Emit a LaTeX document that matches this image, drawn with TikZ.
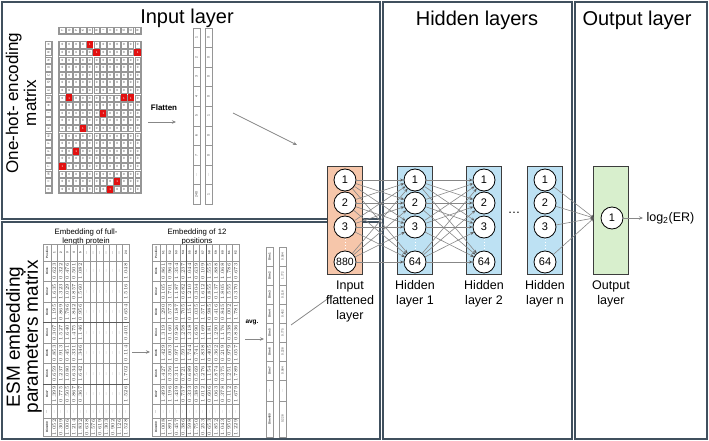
\documentclass[tikz,border=0pt]{standalone}
\usepackage{fontspec}
\setmainfont{Liberation Sans}
\usetikzlibrary{arrows.meta}
\definecolor{framecol}{RGB}{64,80,94}
\definecolor{inputfill}{RGB}{246,198,170}
\definecolor{hiddenfill}{RGB}{189,225,243}
\definecolor{outfill}{RGB}{216,239,205}
\definecolor{boxline}{RGB}{60,60,60}
\definecolor{conncol}{RGB}{135,135,135}
\definecolor{headcol}{RGB}{90,90,90}
\definecolor{gridcol}{RGB}{150,150,150}
\definecolor{onered}{RGB}{226,16,16}
\definecolor{tinycol}{RGB}{60,60,60}
\def\dd{\ldots}
\newcommand\esmnum{\pgfmathprintnumber[fixed,fixed zerofill,precision=3]{\esmval}}
\newcommand\tabAtxt[2]{%
  \ifnum#1=1 \textbf{\ifnum#2<6 #2\else\ifnum#2=12 24\else\ldots\fi\fi}%
  \else\ifnum#1=9 \ldots
  \else\ifnum#1=10 \esmnum
  \else\ifnum#2<6 \esmnum\else\ifnum#2=12 \esmnum\else\ldots\fi\fi
  \fi\fi\fi}
\newcommand\tabBtxt[2]{%
  \ifnum#1=1 \textbf{\the\numexpr50+#2\relax}%
  \else\ifnum#1=9 \ldots\else\esmnum\fi\fi}
\tikzset{
  panel/.style={draw=framecol, line width=1.6pt},
  paneltitle/.style={font=\fontsize{20}{23}\selectfont, text=black},
  sidelabel/.style={rotate=90, align=center},
  layerbox/.style={draw=boxline, line width=0.9pt, minimum width=35pt, minimum height=108pt, inner sep=0pt},
  neuron/.style={circle, draw=black, fill=white, line width=0.8pt, minimum size=22pt, inner sep=0pt, font=\fontsize{11}{12}\selectfont},
  conn/.style={draw=conncol, line width=0.6pt, -{Stealth[length=3.5pt,width=3pt,color=headcol]}},
  bigarrow/.style={draw=conncol, line width=0.8pt, -{Stealth[length=4pt,width=3.5pt]}},
  layerlabel/.style={align=center, font=\fontsize{12.5}{15}\selectfont, anchor=north},
  cellbox/.style={draw=gridcol, line width=0.3pt},
  tinytxt/.style={font=\fontsize{3}{3.4}\selectfont, text=tinycol, inner sep=0pt},
  smalltxt/.style={font=\fontsize{3.4}{3.8}\selectfont, text=tinycol, inner sep=0pt},
  dotsline/.style={draw=white, line width=0.9pt, dotted},
}
\begin{document}
\begin{tikzpicture}[x=1pt,y=-1pt]
\useasboundingbox (0,0) rectangle (709,441);
\fill[white] (0,0) rectangle (709,441);
% panels
\draw[panel] (2,2) rectangle (380,219);
\draw[panel] (2,222) rectangle (380,439);
\draw[panel] (383,2) rectangle (572,439);
\draw[panel] (575,2) rectangle (707,439);
\node[paneltitle] (t1) at (187,18) {Input layer};
\node[paneltitle] (t2) at (477,20) {Hidden layers};
\node[paneltitle] (t3) at (637,20) {Output layer};
\node[sidelabel, font=\fontsize{17}{18}\selectfont] (ohlab) at (21,103) {One-hot- encoding\\matrix};
\node[sidelabel, font=\fontsize{19}{18}\selectfont] (esmlab) at (24,337) {ESM embedding\\parameters matrix};

% ---------- one-hot matrix ----------
\foreach \L [count=\c] in {T,G,P,K,A,R,I,V,Y,G,G,R}{
  \pgfmathsetmacro\xa{59+(\c-1)*6.833}
  \draw[cellbox] ({\xa+0.6},27.5) rectangle ({\xa+6.233},33.5);
  \node[tinytxt, rotate=90] at ({\xa+3.42},30.5) {\L};
}
\draw[cellbox] (58.5,27) rectangle (141.5,34);
\foreach \L [count=\r] in {A,R,N,D,C,Q,E,G,H,I,L,K,M,F,P,S,T,W,Y,V}{
  \pgfmathsetmacro\ya{41+(\r-1)*7.6}
  \draw[cellbox] (45.5,{\ya+0.6}) rectangle (51.5,{\ya+7});
  \node[tinytxt, rotate=90] at (48.5,{\ya+3.8}) {\L};
  \foreach \c in {1,...,12}{
    \pgfmathsetmacro\xa{59+(\c-1)*6.833}
    \draw[cellbox] ({\xa+0.6},{\ya+0.6}) rectangle ({\xa+6.233},{\ya+7});
    \node[tinytxt] at ({\xa+3.42},{\ya+3.8}) {0};
  }
}
\draw[cellbox] (45,41) rectangle (52,193);
\draw[cellbox] (58.5,41) rectangle (141.5,193);
\foreach \r/\c in {1/5,2/6,2/12,8/2,8/10,8/11,10/7,12/4,15/3,17/1,19/9,20/8}{
  \pgfmathsetmacro\xa{59+(\c-1)*6.833}
  \pgfmathsetmacro\ya{41+(\r-1)*7.6}
  \fill[onered] ({\xa+0.3},{\ya+0.3}) rectangle ({\xa+6.5},{\ya+7.3});
  \node[tinytxt, text=white] at ({\xa+3.42},{\ya+3.8}) {1};
}
\node[font=\fontsize{8}{9}\selectfont\bfseries] (flattxt) at (164,108) {Flatten};
\coordinate (fl1) at (148,122);
\coordinate (fl2) at (176,122);
\draw[bigarrow] (fl1) -- (fl2);
% flattened vector
\foreach \a/\b [count=\k] in {1/0,2/0,3/0,4/0,5/1,6/0,7/0,\dd/\dd,240/1}{
  \pgfmathsetmacro\ya{28+(\k-1)*19.55}
  \draw[cellbox] (193,\ya) rectangle (200,{\ya+19.55});
  \draw[cellbox] (205,\ya) rectangle (212,{\ya+19.55});
  \node[smalltxt, rotate=90] at (196.5,{\ya+9.8}) {\a};
  \node[smalltxt, rotate=90] at (208.5,{\ya+9.8}) {\b};
}
\coordinate (vec1) at (233,113);
\coordinate (vec2) at (297,145);
\draw[bigarrow] (vec1) -- (vec2);

% ---------- ESM tables ----------
\node[align=center, font=\fontsize{7.8}{9}\selectfont] (tabAtitle) at (86,237) {Embedding of full-\\length protein};
\node[align=center, font=\fontsize{7.8}{9}\selectfont] (tabBtitle) at (197,237) {Embedding of 12\\positions};
\pgfmathsetseed{4}
\foreach \ya/\yb/\lab [count=\r] in {244/261/Position,261/281.5/Dim1,281.5/302/Dim2,302/322.5/Dim3,322.5/343/Dim4,343/363.5/Dim5,363.5/384/Dim6,384/404.5/Dim7,404.5/418.5/\dd,418.5/436.5/Dim480}{
  \draw[cellbox] (43,\ya) rectangle (51,\yb);
  \node[tinytxt, rotate=90] at (47,{(\ya+\yb)/2}) {\textbf{\lab}};
  \draw[cellbox] (152,\ya) rectangle (160,\yb);
  \node[tinytxt, rotate=90] at (156,{(\ya+\yb)/2}) {\textbf{\lab}};
  \foreach \c in {1,...,12}{
    \pgfmathsetmacro\xa{51+(\c-1)*6.5}
    \pgfmathsetmacro\esmval{0.1+rnd*1.8}
    \draw[cellbox] (\xa,\ya) rectangle ({\xa+6.5},\yb);
    \node[tinytxt, rotate=90] at ({\xa+3.25},{(\ya+\yb)/2}) {\tabAtxt{\r}{\c}};
    \pgfmathsetmacro\xb{160+(\c-1)*6.58}
    \pgfmathsetmacro\esmval{0.1+rnd*1.8}
    \draw[cellbox] (\xb,\ya) rectangle ({\xb+6.58},\yb);
    \node[tinytxt, rotate=90] at ({\xb+3.29},{(\ya+\yb)/2}) {\tabBtxt{\r}{\c}};
  }
}
\draw[draw=gray!70!black, line width=0.5pt] (43,322.5) -- (129,322.5);
\draw[draw=gray!70!black, line width=0.5pt] (43,384) -- (129,384);
\draw[draw=gray!70!black, line width=0.5pt] (186.3,244) -- (186.3,436.5);
\draw[draw=gray!70!black, line width=0.5pt] (205.9,244) -- (205.9,436.5);
\coordinate (tab1) at (132,352);
\coordinate (tab2) at (150,352);
\draw[bigarrow] (tab1) -- (tab2);
\node[font=\fontsize{6.5}{7}\selectfont\bfseries] (avgtxt) at (252,322) {avg.};
\coordinate (avg1) at (245,339);
\coordinate (avg2) at (264,339);
\draw[bigarrow] (avg1) -- (avg2);
\foreach \ya/\yb/\lab/\val in {247/266/Dim1/0.584,266/285/Dim2/1.772,285/304/Dim3/0.118,304/323/Dim4/0.452,323/342/Dim5/0.775,342/361/Dim6/0.228,361/380/Dim7/0.984,380/401/\dd/\dd,401/437/Dim480/0.228}{
  \draw[cellbox] (266,\ya) rectangle (273,\yb);
  \draw[cellbox] (279,\ya) rectangle (286,\yb);
  \node[tinytxt, rotate=90] at (269.5,{(\ya+\yb)/2}) {\textbf{\lab}};
  \node[tinytxt, rotate=90] at (282.5,{(\ya+\yb)/2}) {\val};
}
\coordinate (avgout) at (291,325);
\coordinate (avgin) at (333,295);
\draw[bigarrow] (avgout) -- (avgin);

% ---------- network ----------
\node[layerbox, fill=inputfill] (inbox) at (345,220) {};
\node[layerbox, fill=hiddenfill] (hAbox) at (415,220) {};
\node[layerbox, fill=hiddenfill] (hBbox) at (484,220) {};
\node[layerbox, fill=hiddenfill] (hNbox) at (545,220) {};
\node[layerbox, fill=outfill] (outbox) at (611,220) {};
\foreach \nm/\xx in {in/345,hA/415,hB/484,hN/545}{
  \draw[dotsline] (\xx,239) -- (\xx,251);
}
\node[neuron] (in1) at (345,180) {1};
\node[neuron] (in2) at (345,203) {2};
\node[neuron] (in3) at (345,227) {3};
\node[neuron, font=\fontsize{10.5}{11}\selectfont] (in4) at (345,262) {880};
\foreach \nm/\xx in {hA/415,hB/484,hN/545}{
  \node[neuron] (\nm1) at (\xx,180) {1};
  \node[neuron] (\nm2) at (\xx,203) {2};
  \node[neuron] (\nm3) at (\xx,227) {3};
  \node[neuron] (\nm4) at (\xx,262) {64};
}
\node[neuron] (out1) at (612,218) {1};
\foreach \i in {1,...,4}{
  \foreach \j in {1,...,4}{
    \draw[conn] (in\i) -- (hA\j);
    \draw[conn] (hA\i) -- (hB\j);
  }
}
\coordinate (oin) at (594,218);
\foreach \i in {1,...,4}{
  \draw[conn] (hN\i) -- (oin);
}
\node[font=\fontsize{12.5}{15}\selectfont] (gap) at (514,213) {\ldots};
\node[anchor=west, font=\fontsize{12.5}{15}\selectfont] (logtxt) at (643,218) {log\textsubscript{2}(ER)};
\draw[bigarrow] (out1) -- (logtxt);
\node[layerlabel] (inlab) at (350,277) {Input\\flattened\\layer};
\node[layerlabel] (hAlab) at (415,277) {Hidden\\layer 1};
\node[layerlabel] (hBlab) at (484,277) {Hidden\\layer 2};
\node[layerlabel] (hNlab) at (545,277) {Hidden\\layer n};
\node[layerlabel] (outlab) at (611,277) {Output\\layer};
\end{tikzpicture}
\end{document}
